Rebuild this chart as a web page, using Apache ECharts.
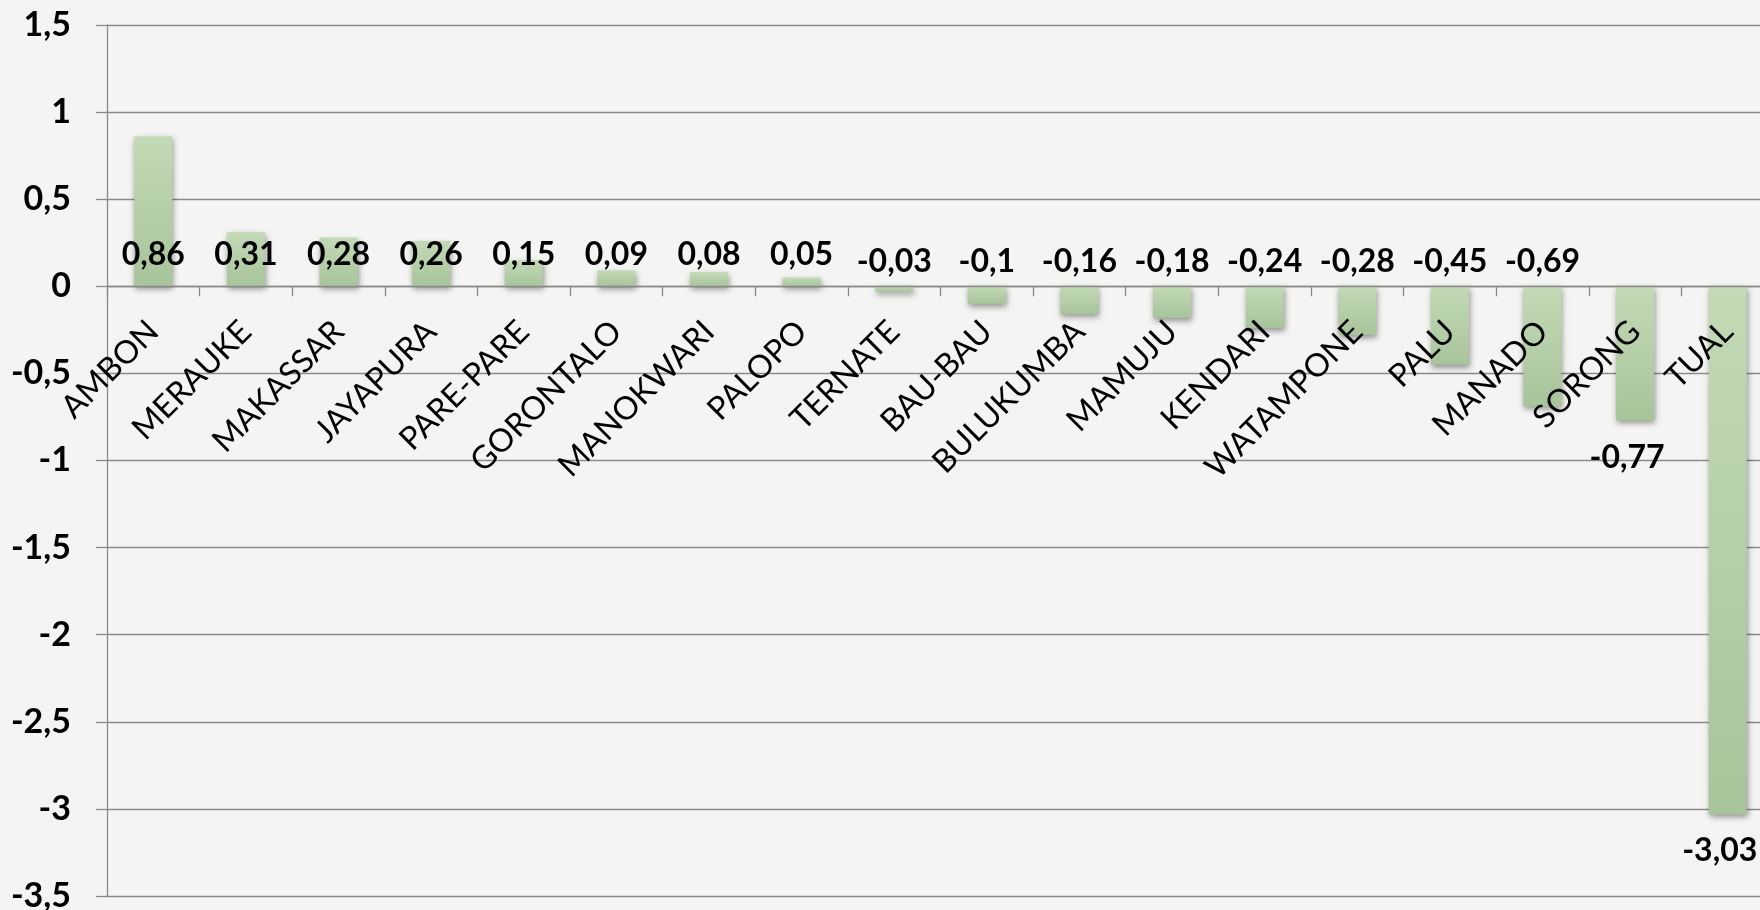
<!DOCTYPE html>
<html>
<head>
<meta charset="utf-8">
<script src="https://cdn.jsdelivr.net/npm/echarts@6/dist/echarts.min.js"></script>
<style>
html,body{margin:0;padding:0;background:#f4f4f2;}
#c{width:1760px;height:910px;}
</style>
</head>
<body>
<div id="c"></div>
<script>
const categories = ['AMBON','MERAUKE','MAKASSAR','JAYAPURA','PARE-PARE','GORONTALO','MANOKWARI','PALOPO','TERNATE','BAU-BAU','BULUKUMBA','MAMUJU','KENDARI','WATAMPONE','PALU','MANADO','SORONG','TUAL'];
const values = [0.86,0.31,0.28,0.26,0.15,0.09,0.08,0.05,-0.03,-0.1,-0.16,-0.18,-0.24,-0.28,-0.45,-0.69,-0.77,-3.03];
const yMin = -3.5, yMax = 1.5, yStep = 0.5;

const fmt = v => String(v).replace('.', ',');

const gridTop = 25, gridHeight = 871;
const zeroOffset = -((0 - yMin) / (yMax - yMin)) * gridHeight;

const seriesData = values.map(v => {
  let label;
  if (v >= 0) label = {position: 'insideBottom', distance: 16};
  else if (v > -0.7) label = {position: 'top', distance: 9};
  else label = {position: 'bottom', distance: 21, offset: [-8, 0]};
  return {value: v, label: label};
});

const chart = echarts.init(document.getElementById('c'));
chart.setOption({
  backgroundColor: '#f4f4f2',
  animation: false,
  grid: {left: 107, top: gridTop, width: 1667, height: gridHeight, outerBoundsMode: 'none', containLabel: false},
  xAxis: {
    type: 'category',
    data: categories,
    position: 'bottom',
    offset: zeroOffset,
    z: 5,
    axisLine: {onZero: false, lineStyle: {color: '#8a8a8a', width: 1.3}},
    axisTick: {show: true, length: 10, interval: 0, lineStyle: {color: '#8a8a8a', width: 1.3}},
    axisLabel: {interval: 0, rotate: 45, margin: 40, fontFamily: 'Lato', fontSize: 32, color: '#000'}
  },
  yAxis: {
    type: 'value',
    min: yMin, max: yMax, interval: yStep,
    axisLine: {show: true, lineStyle: {color: '#8a8a8a', width: 1.3}},
    axisTick: {show: true, length: 11, lineStyle: {color: '#8a8a8a', width: 1.3}},
    splitLine: {lineStyle: {color: '#8a8a8a', width: 1.3}},
    axisLabel: {formatter: fmt, margin: 36, fontFamily: 'Lato', fontWeight: 'bold', fontSize: 34, color: '#000'}
  },
  series: [{
    type: 'bar',
    data: seriesData,
    barWidth: 38,
    z: 2,
    itemStyle: {
      color: new echarts.graphic.LinearGradient(0, 0, 0, 1, [
        {offset: 0, color: '#c2dab6'},
        {offset: 1, color: '#a8c49b'}
      ]),
      shadowColor: 'rgba(0,0,0,0.4)',
      shadowBlur: 6,
      shadowOffsetX: 1,
      shadowOffsetY: 3
    },
    label: {
      show: true,
      formatter: p => fmt(p.value),
      fontFamily: 'Lato', fontWeight: 'bold', fontSize: 32, color: '#000'
    }
  }]
});
</script>
</body>
</html>
